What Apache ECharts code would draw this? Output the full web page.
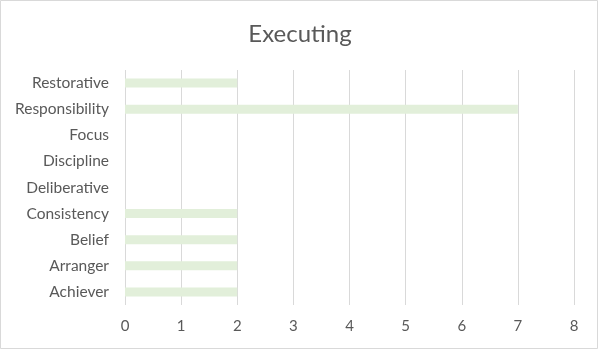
<!DOCTYPE html>
<html><head><meta charset="utf-8">
<script src="https://cdn.jsdelivr.net/npm/echarts@6/dist/echarts.min.js"></script>
<style>html,body{margin:0;padding:0;background:#fff}#c{width:600px;height:351px}</style>
</head><body><div id="c"></div>
<script>
const categories = ['Achiever','Arranger','Belief','Consistency','Deliberative','Discipline','Focus','Responsibility','Restorative'];
const values = [2,2,2,2,0,0,0,7,2];
const xTicks = [0,1,2,3,4,5,6,7,8];
const titleText = 'Executing';

const chart = echarts.init(document.getElementById('c'), null, {renderer:'canvas'});
chart.setOption({
  animation:false,
  backgroundColor:'#fff',
  textStyle:{fontFamily:'Lato'},
  title:{text:titleText,left:'center',top:17,textStyle:{fontFamily:'Lato',fontSize:24,fontWeight:'normal',color:'#595959'}},
  graphic:[{type:'rect',shape:{x:0.5,y:0.5,width:597,height:348},style:{fill:'none',stroke:'#d9d9d9',lineWidth:1},silent:true}],
  grid:{left:125,right:26,top:70,bottom:46,containLabel:false},
  xAxis:{type:'value',min:xTicks[0],max:xTicks[xTicks.length-1],interval:1,
    axisLine:{show:false},axisTick:{show:false},
    splitLine:{lineStyle:{color:'#d9d9d9',width:1}},
    axisLabel:{color:'#595959',fontSize:15,margin:14,fontFamily:'Lato'}},
  yAxis:{type:'category',data:categories,
    axisLine:{show:false},axisTick:{show:false},
    axisLabel:{color:'#595959',fontSize:15.5,margin:16,fontFamily:'Lato'}},
  series:[{type:'bar',data:values,barWidth:9,itemStyle:{color:'#e2efda'}}]
});
</script></body></html>
